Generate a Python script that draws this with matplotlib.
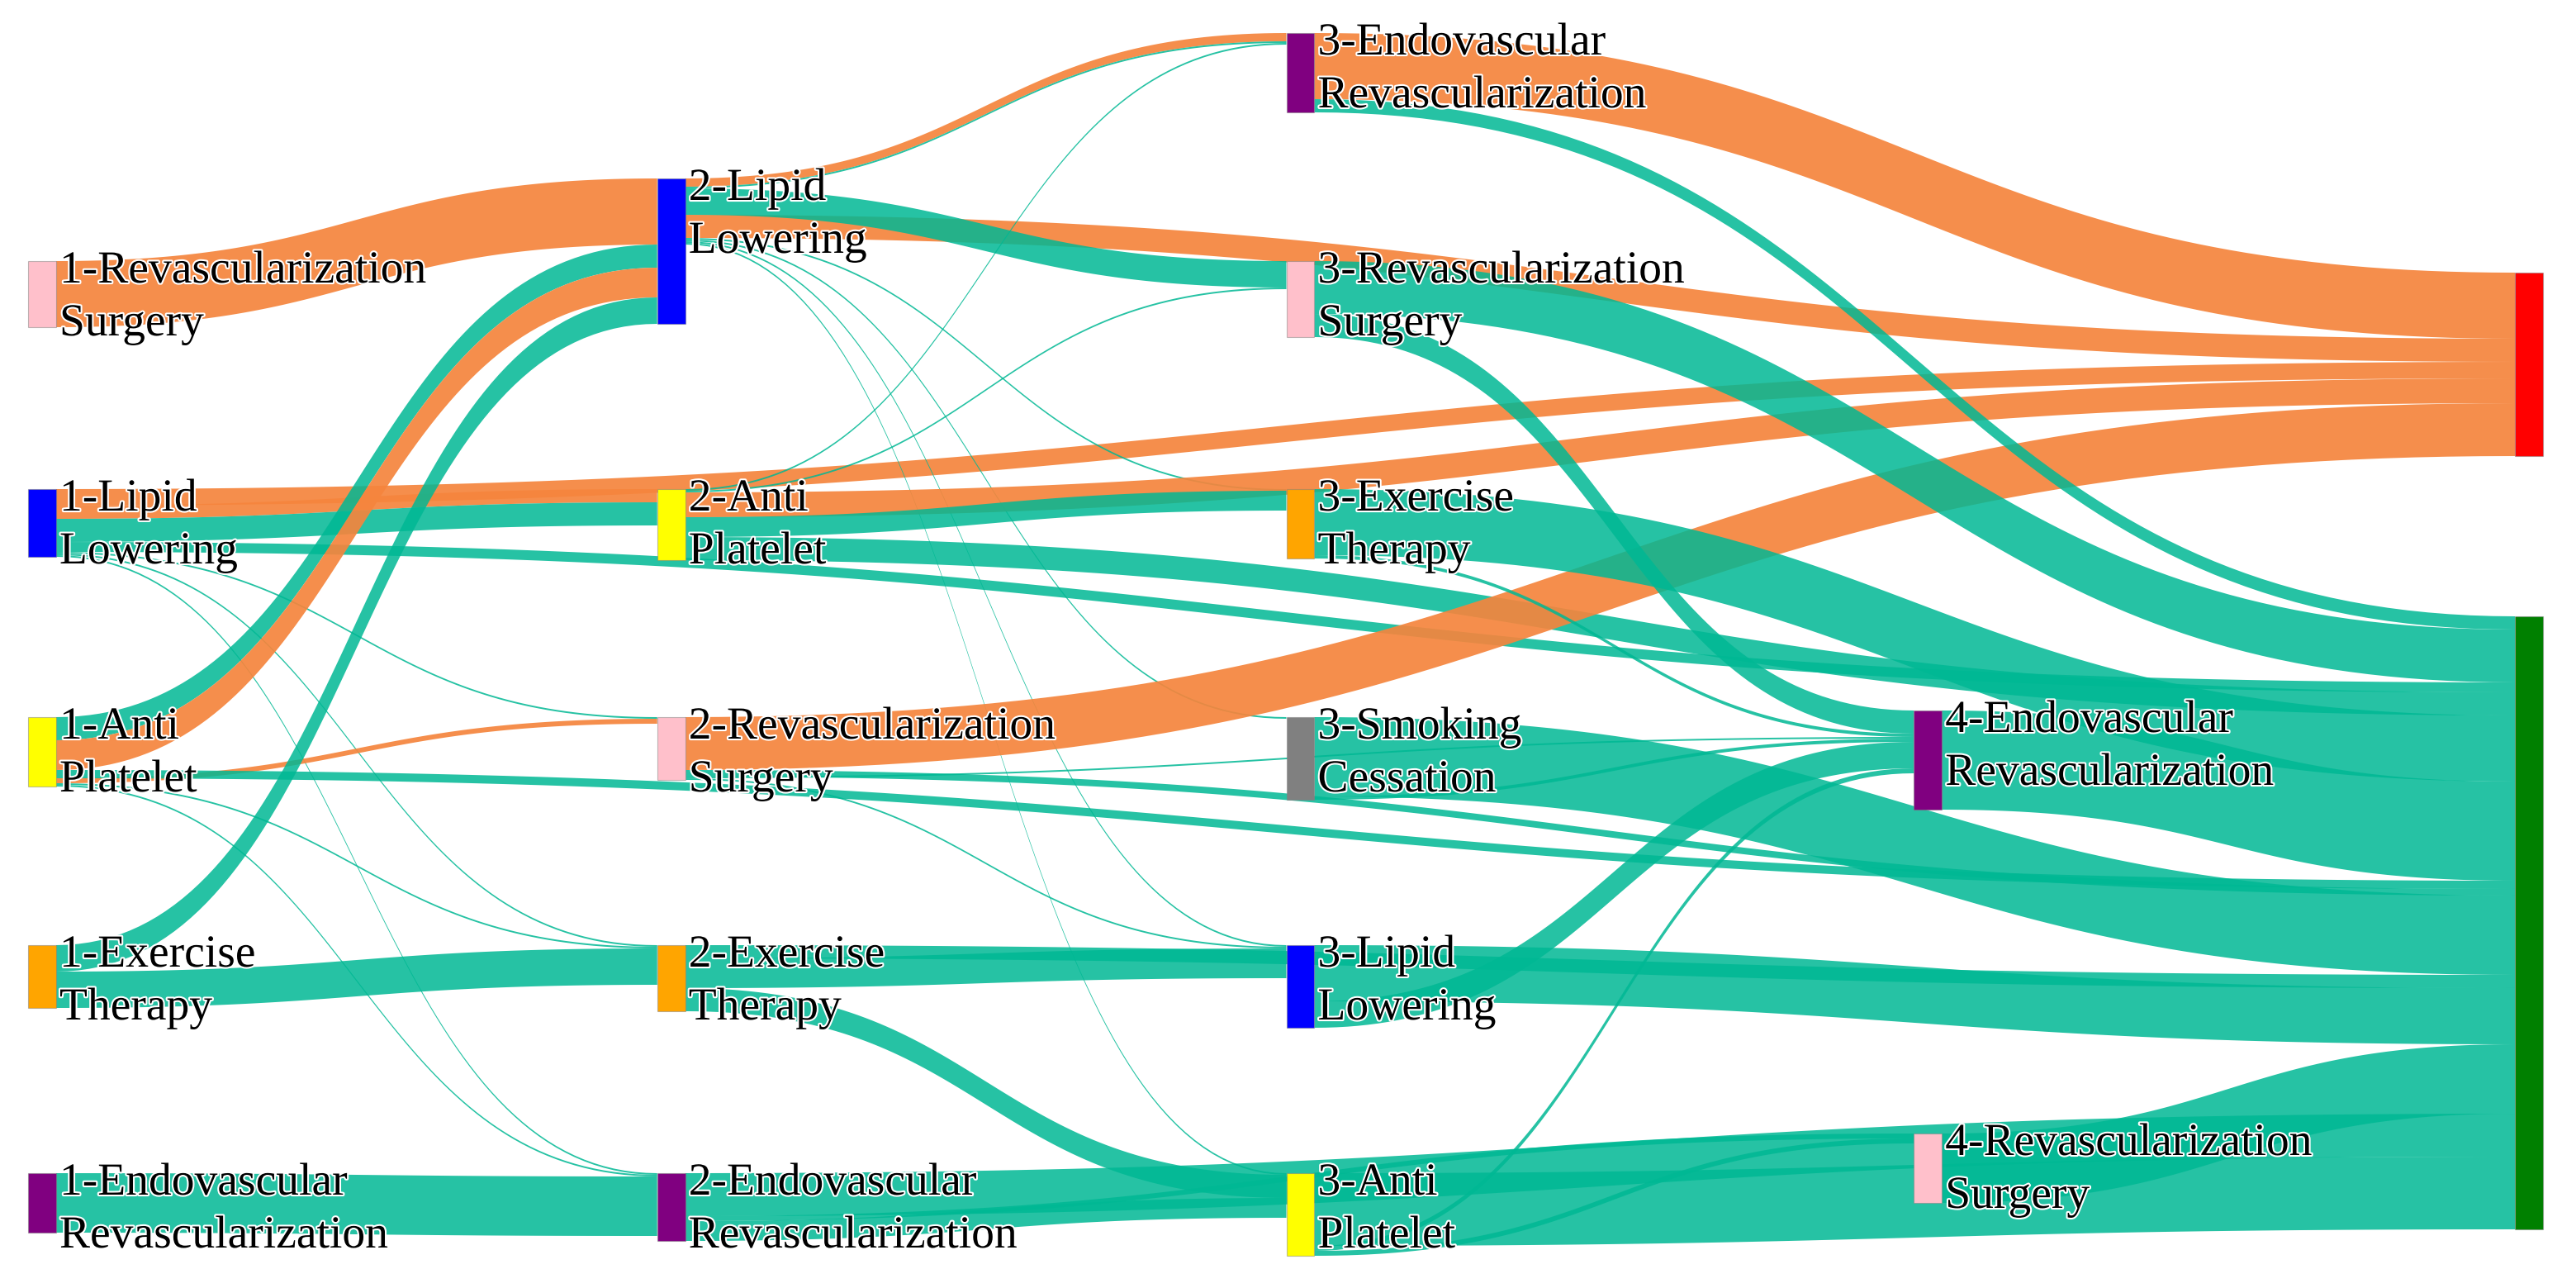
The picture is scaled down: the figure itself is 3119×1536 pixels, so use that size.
import numpy as np
import matplotlib.pyplot as plt
import matplotlib.patheffects as pe

# nodes: key, label, column, colour
node_keys = ["1RS", "1LL", "1AP", "1EX", "1EV",
             "2LL", "2AP", "2RS", "2EX", "2EV",
             "3EV", "3RS", "3EX", "3SC", "3LL", "3AP",
             "4EV", "4RS", "RED", "GREEN"]
node_labels = ["1-Revascularization\nSurgery", "1-Lipid\nLowering", "1-Anti\nPlatelet",
               "1-Exercise\nTherapy", "1-Endovascular\nRevascularization",
               "2-Lipid\nLowering", "2-Anti\nPlatelet", "2-Revascularization\nSurgery",
               "2-Exercise\nTherapy", "2-Endovascular\nRevascularization",
               "3-Endovascular\nRevascularization", "3-Revascularization\nSurgery",
               "3-Exercise\nTherapy", "3-Smoking\nCessation", "3-Lipid\nLowering",
               "3-Anti\nPlatelet", "4-Endovascular\nRevascularization",
               "4-Revascularization\nSurgery", "", ""]
node_colors = ["pink", "blue", "yellow", "orange", "purple",
               "blue", "yellow", "pink", "orange", "purple",
               "purple", "pink", "orange", "gray", "blue", "yellow",
               "purple", "pink", "red", "green"]
node_column = [0, 0, 0, 0, 0, 1, 1, 1, 1, 1, 2, 2, 2, 2, 2, 2, 3, 3, 4, 4]

# links (O = orange path to red, T = teal path to green)
link_src = ["1RS", "1LL", "1LL", "1LL", "1LL", "1LL", "1LL", "1LL",
            "1AP", "1AP", "1AP", "1AP", "1AP", "1AP", "1EX", "1EX", "1EV",
            "2LL", "2LL", "2LL", "2LL", "2LL", "2LL", "2LL", "2LL",
            "2AP", "2AP", "2AP", "2AP", "2AP",
            "2RS", "2RS", "2RS", "2RS",
            "2EX", "2EX", "2EX",
            "2EV", "2EV", "2EV",
            "3EV", "3EV", "3RS", "3RS", "3EX", "3EX", "3SC", "3SC",
            "3LL", "3LL", "3AP", "3AP", "3AP",
            "4EV", "4RS"]
link_tgt = ["2LL", "RED", "2AP", "2AP", "GREEN", "2RS", "2EX", "2EV",
            "2LL", "2LL", "2RS", "GREEN", "2EX", "2EV", "2LL", "2EX", "2EV",
            "3EV", "RED", "3EV", "3RS", "3EX", "3SC", "3LL", "3AP",
            "3EV", "3RS", "RED", "3EX", "GREEN",
            "RED", "3LL", "GREEN", "4EV",
            "3LL", "3AP", "GREEN",
            "3AP", "GREEN", "4RS",
            "RED", "GREEN", "GREEN", "4EV", "GREEN", "4EV", "GREEN", "4EV",
            "4EV", "GREEN", "4EV", "GREEN", "4RS",
            "GREEN", "GREEN"]
link_val = [40, 10, 8, 14, 6, 1, 1, 1,
            14, 18, 3, 5, 1, 1, 16, 22, 36,
            5, 14, 1, 16, 1, 1, 1, 1,
            1, 1, 15, 12, 14,
            32, 1, 4, 1,
            18, 14, 8,
            12, 26, 3,
            40, 8, 32, 14, 40, 2, 48, 2,
            16, 34, 3, 44, 3,
            60, 42]
link_kind = ["O", "O", "O", "T", "T", "T", "T", "T",
             "T", "O", "O", "T", "T", "T", "T", "T", "T",
             "O", "O", "T", "T", "T", "T", "T", "T",
             "T", "T", "O", "T", "T",
             "O", "T", "T", "T",
             "T", "T", "T",
             "T", "T", "T",
             "O", "T", "T", "T", "T", "T", "T", "T",
             "T", "T", "T", "T", "T",
             "T", "T"]

# layout (reference pixel space, half scale)
col_x = [17, 398, 779, 1159, 1523]
node_w = 17
node_top = {"1RS": 158, "1LL": 296, "1AP": 434, "1EX": 572, "1EV": 710,
            "2LL": 108, "2AP": 296, "2RS": 434, "2EX": 572, "2EV": 710,
            "3EV": 20, "3RS": 158, "3EX": 296, "3SC": 434, "3LL": 572, "3AP": 710,
            "4EV": 430, "4RS": 686, "RED": 165, "GREEN": 373}
kind_color = {"O": (0.96, 0.52, 0.24, 0.92), "T": (0.0, 0.72, 0.58, 0.85)}

idx = {k: i for i, k in enumerate(node_keys)}
n_in = {k: 0 for k in node_keys}
n_out = {k: 0 for k in node_keys}
for s, t, v in zip(link_src, link_tgt, link_val):
    n_out[s] += v
    n_in[t] += v
node_h = {k: max(n_in[k], n_out[k]) for k in node_keys}

# stacking order like d3-sankey
order = list(range(len(link_val)))
src_y = {}
off = {k: node_top[k] for k in node_keys}
for i in sorted(order, key=lambda i: (idx[link_src[i]], node_top[link_tgt[i]], node_column[idx[link_tgt[i]]])):
    src_y[i] = off[link_src[i]]
    off[link_src[i]] += link_val[i]
tgt_y = {}
off = {k: node_top[k] for k in node_keys}
for i in sorted(order, key=lambda i: (idx[link_tgt[i]], node_top[link_src[i]], node_column[idx[link_src[i]]])):
    tgt_y[i] = off[link_tgt[i]]
    off[link_tgt[i]] += link_val[i]

fig = plt.figure(figsize=(31.19, 15.36), dpi=100)
ax = fig.add_axes([0, 0, 1, 1])
ax.set_xlim(0, 1560)
ax.set_ylim(768, 0)
ax.axis("off")

t = np.linspace(0, 1, 80)
def bez(y0, y1, x0, x1):
    xm = (x0 + x1) / 2
    x = (1-t)**3*x0 + 3*(1-t)**2*t*xm + 3*(1-t)*t**2*xm + t**3*x1
    y = (1-t)**3*y0 + 3*(1-t)**2*t*y0 + 3*(1-t)*t**2*y1 + t**3*y1
    return x, y

for i in order:
    s, g, w = link_src[i], link_tgt[i], link_val[i]
    x0 = col_x[node_column[idx[s]]] + node_w
    x1 = col_x[node_column[idx[g]]]
    xa, ya = bez(src_y[i], tgt_y[i], x0, x1)
    xb, yb = bez(src_y[i] + w, tgt_y[i] + w, x0, x1)
    ax.fill(np.concatenate([xa, xb[::-1]]), np.concatenate([ya, yb[::-1]]),
            color=kind_color[link_kind[i]], lw=0, zorder=1)

for k, lab, c, col in zip(node_keys, node_labels, node_colors, node_column):
    x = col_x[col]
    ax.add_patch(plt.Rectangle((x, node_top[k]), node_w, node_h[k], facecolor=c,
                               edgecolor=(0.5, 0.5, 0.5, 0.5), lw=0.8, zorder=2))
    if lab:
        ax.text(x + node_w + 2, node_top[k] + 22, lab, family="Liberation Serif",
                fontsize=40, va="center", ha="left", linespacing=1.3, zorder=3,
                path_effects=[pe.withStroke(linewidth=3, foreground="white")])

fig.savefig("out.png", dpi=100)
